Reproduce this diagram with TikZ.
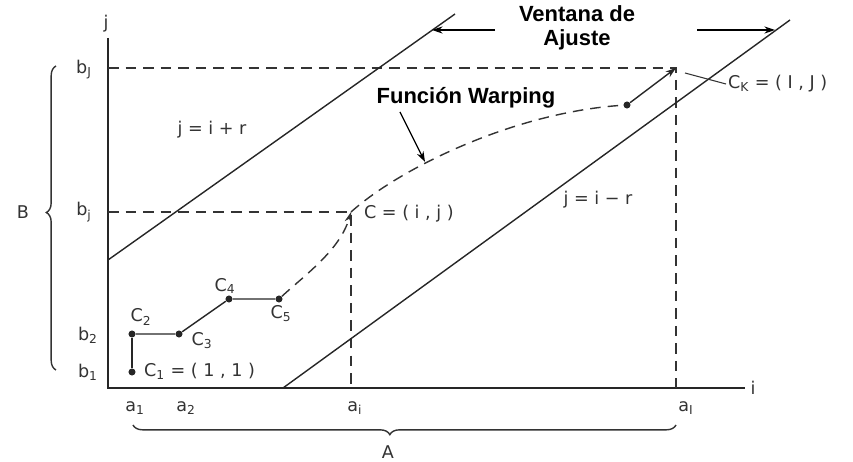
\documentclass[tikz,border=0pt]{standalone}
\usepackage{fontspec}
\setmainfont{DejaVu Sans}
\newfontfamily\headfont{Liberation Sans}
\usetikzlibrary{arrows.meta,decorations.pathreplacing,calc}

\begin{document}
\begin{tikzpicture}[x=0.02cm,y=-0.02cm,>={Stealth[length=6pt,width=4pt]},
  lbl/.style={font=\fontsize{10}{12}\selectfont,text=black!80,inner sep=1pt},
  head/.style={font=\headfont\bfseries\fontsize{12.5}{14}\selectfont,align=center,inner sep=0pt},
  dot/.style={circle,fill=black!85,inner sep=0pt,minimum size=4pt},
  guide/.style={dash pattern=on 6pt off 4pt,line width=0.8pt,black!80},
  diag/.style={line width=0.8pt,black!85},
  brc/.style={decorate,decoration={brace,amplitude=5.5pt,aspect=#1},line width=0.8pt,black!80}]
  \useasboundingbox (0,0) rectangle (853,462);
  \coordinate (O) at (108,388); \coordinate (ytop) at (108,38); \coordinate (xend) at (745,388);
  \coordinate (C) at (351,212); \coordinate (CK) at (676,68);
  \coordinate (bJ) at (108,68); \coordinate (bj) at (108,212);
  \coordinate (ai) at (351,388); \coordinate (aI) at (676,388);
  \coordinate (up0) at (108,260); \coordinate (up1) at (455,14);
  \coordinate (lo0) at (283,388); \coordinate (lo1) at (790,20);
  \coordinate (wl) at (432,30); \coordinate (wla) at (495,30);
  \coordinate (wr) at (775,30); \coordinate (wra) at (697,30);
  \coordinate (fwa) at (400,112); \coordinate (fwb) at (425,162);
  \coordinate (ckt) at (685,73);
  \node[dot] (c1) at (132,372) {}; \node[dot] (c2) at (132,334) {}; \node[dot] (c3) at (179,334) {};
  \node[dot] (c4) at (229,299) {}; \node[dot] (c5) at (279,299) {}; \node[dot] (ck) at (627,105) {};
  \draw[line width=1.1pt,black!85] (ytop) -- (O) -- (xend);
  \node[lbl] at (106,24) {j}; \node[lbl] at (753,388) {i};
  \draw[guide] (bJ) -- (CK) -- (aI); \draw[guide] (bj) -- (C) -- (ai);
  \draw[diag] (up0) -- (up1); \draw[diag] (lo0) -- (lo1);
  \node[head] (win) at (577,28) {Ventana de\\Ajuste};
  \draw[->,line width=0.7pt] (wla) -- (wl); \draw[->,line width=0.7pt] (wra) -- (wr);
  \node[head] (fw) at (466,98) {Función Warping};
  \draw[->,line width=0.7pt] (fwa) -- (fwb);
  \draw[line width=1.6pt,black!85] (c1) -- (c2);
  \draw[line width=0.8pt,black!85] (c2) -- (c3) -- (c4) -- (c5);
  \draw[guide,->] (c5) .. controls (305,275) and (340,250) .. (C);
  \draw[guide] (C) .. controls (400,168) and (515,112) .. (ck);
  \draw[->,line width=0.8pt,black!85] (ck) -- (CK);
  \node[lbl,anchor=west] (ckl) at (726,84) {C\textsubscript{K} = ( I , J )};
  \draw[line width=0.6pt,black!80] (ckt) -- (ckl.west);
  \node[lbl,anchor=west] at (362,214) {C = ( i , j )};
  \node[lbl,anchor=west] at (142,371) {C\textsubscript{1} = ( 1 , 1 )};
  \node[lbl] at (141,317) {C\textsubscript{2}}; \node[lbl] at (202,341) {C\textsubscript{3}};
  \node[lbl] at (225,286) {C\textsubscript{4}}; \node[lbl] at (281,314) {C\textsubscript{5}};
  \node[lbl] at (212,130) {j = i + r}; \node[lbl] at (598,200) {j = i − r};
  \node[lbl] at (84,70) {b\textsubscript{J}}; \node[lbl] at (84,212) {b\textsubscript{j}};
  \node[lbl] at (88,335) {b\textsubscript{2}}; \node[lbl] at (88,372) {b\textsubscript{1}};
  \node[lbl] at (135,408) {a\textsubscript{1}}; \node[lbl] at (186,408) {a\textsubscript{2}};
  \node[lbl] at (355,408) {a\textsubscript{i}}; \node[lbl] at (686,408) {a\textsubscript{I}};
  \draw[brc=0.518] (56,370) -- (56,66); \node[lbl] at (23,212) {B};
  \draw[brc=0.527] (676,425) -- (133,425); \node[lbl] at (388,452) {A};
\end{tikzpicture}
\end{document}
